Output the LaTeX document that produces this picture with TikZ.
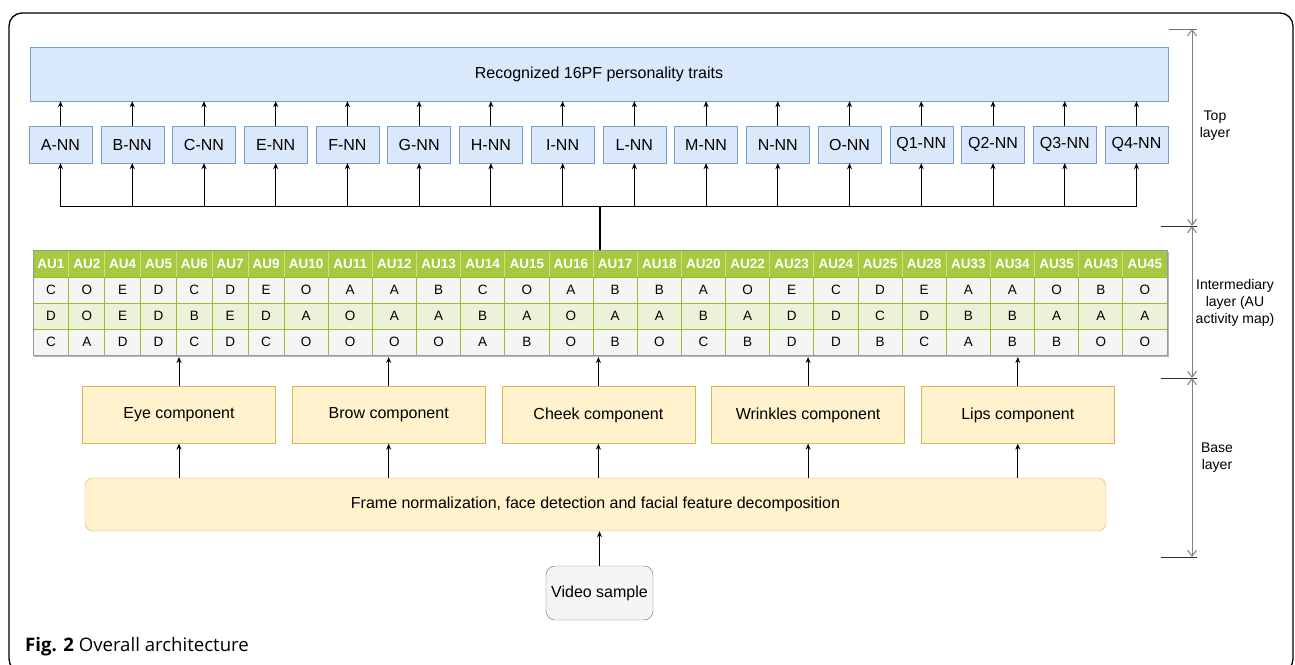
\documentclass[tikz,border=0pt]{standalone}
\usepackage{fontspec}
\setmainfont{Liberation Sans}
\newfontfamily\capfont{Open Sans}
\usepackage{tikz}
\usetikzlibrary{arrows.meta,positioning}

\definecolor{nnfill}{HTML}{DAE8FC}
\definecolor{nndraw}{HTML}{7C9CC8}
\definecolor{cpfill}{HTML}{FFF2CC}
\definecolor{cpdraw}{HTML}{D6B656}
\definecolor{aufill}{HTML}{A6C940}
\definecolor{augrid}{HTML}{94C02C}
\definecolor{rowgrey}{HTML}{F5F5F5}
\definecolor{rowgreen}{HTML}{EBF2D8}

% column width and centre of AU column #1
\newcommand{\aucol}[1]{%
  \pgfmathsetmacro{\colw}{#1<7 ? 35.86 : 44.15}%
  \pgfmathsetmacro{\colx}{(#1<7 ? 33+35.86*#1 : 284+44.15*(#1-7)) + \colw/2}}

\tikzset{
  nnbox/.style={draw=nndraw, fill=nnfill, minimum width=63pt, minimum height=37pt, inner sep=0pt},
  compbox/.style={draw=cpdraw, fill=cpfill, minimum width=193pt, minimum height=57pt, inner sep=0pt},
  arr/.style={-{Stealth[length=6pt,width=5pt]}, line width=0.9pt},
  aucell/.style={draw=augrid, line width=0.8pt, minimum height=26pt, inner sep=0pt, font=\fontsize{13.5}{15}\selectfont},
  auhead/.style={aucell, fill=aufill, draw=aufill!60!white, minimum height=27pt, text=white, font=\fontsize{13.5}{15}\selectfont\bfseries},
  dimline/.style={draw=black!50, line width=1pt, {Straight Barb[length=6pt,width=9pt]}-{Straight Barb[length=6pt,width=9pt]}},
  lbl/.style={align=center, inner sep=0pt, font=\fontsize{14}{17}\selectfont}
}

\begin{document}
\begin{tikzpicture}[x=1pt, y=-1pt, every node/.style={font=\fontsize{16}{19}\selectfont}]
\useasboundingbox (0,0) rectangle (1295,664);
\draw[line width=1.3pt, rounded corners=13pt] (9,13) rectangle (1293,672);

% top layer
\node[nnbox, minimum width=1138pt, minimum height=54pt] (traits) at (599,74) {Recognized 16PF personality traits};
\foreach \name [count=\i] in {A,B,C,E,F,G,H,I,L,M,N,O,Q1,Q2,Q3,Q4} {
    \pgfmathsetmacro{\x}{60.5 + 71.73*(\i - 1)}
    \node[nnbox] (N\i) at (\x, 144.5) {\name-NN};
}
\coordinate (bus) at (600,206);
\coordinate (mapTop) at (600,250);
\coordinate (mapBot) at (600,357);
\foreach \i in {1,...,16} {
    \draw[arr] (N\i.north) -- (N\i.north |- traits.south);
    \draw[arr] (bus) -| (N\i.south);
}
\draw[line width=1.3pt] (mapTop) -- (bus);

% AU activity map
\fill[black!28] (34,251.5) rectangle (1169,357);
\foreach \name [count=\i from 0] in {AU1,AU2,AU4,AU5,AU6,AU7,AU9,AU10,AU11,AU12,AU13,AU14,AU15,AU16,AU17,AU18,AU20,AU22,AU23,AU24,AU25,AU28,AU33,AU34,AU35,AU43,AU45} {
    \aucol{\i}
    \node[auhead, minimum width=\colw pt] (H\i) at (\colx,263.5) {\name};
}
\foreach \v [count=\i from 0] in {C,O,E,D,C,D,E,O,A,A,B,C,O,A,B,B,A,O,E,C,D,E,A,A,O,B,O} {
    \aucol{\i}
    \node[aucell, fill=rowgrey, minimum width=\colw pt] (Ra\i) at (\colx,290) {\v};
}
\foreach \v [count=\i from 0] in {D,O,E,D,B,E,D,A,O,A,A,B,A,O,A,A,B,A,D,D,C,D,B,B,A,A,A} {
    \aucol{\i}
    \node[aucell, fill=rowgreen, minimum width=\colw pt] (Rb\i) at (\colx,316) {\v};
}
\foreach \v [count=\i from 0] in {C,A,D,D,C,D,C,O,O,O,O,A,B,O,B,O,C,B,D,D,B,C,A,B,B,O,O} {
    \aucol{\i}
    \node[aucell, fill=rowgrey, minimum width=\colw pt] (Rc\i) at (\colx,342) {\v};
}
\draw[black!40, line width=0.8pt] (33,250) rectangle (1167,355);

% base layer
\foreach \name [count=\i] in {Eye,Brow,Cheek,Wrinkles,Lips} {
    \pgfmathsetmacro{\x}{179 + 209.7*(\i - 1)}
    \node[compbox] (C\i) at (\x, 415) {\name{} component};
}
\node[compbox, rounded corners=8pt, minimum width=1021pt, minimum height=53pt] (frame) at (595.5,504.5) {Frame normalization, face detection and facial feature decomposition};
\node[draw=black!60, fill=rowgrey, rounded corners=9pt, minimum width=107pt, minimum height=54pt] (video) at (599.5,593) {Video sample};

\draw[arr] (video.north) -- (video.north |- frame.south);
\foreach \i in {1,...,5} {
    \draw[arr] (C\i.south |- frame.north) -- (C\i.south);
    \draw[arr] (C\i.north) -- (C\i.north |- mapBot);
}

% layer dimensions
\coordinate (d0) at (1192,29);
\coordinate (d1) at (1192,226);
\coordinate (d2) at (1192,378);
\coordinate (d3) at (1192,557);
\draw[black!55, line width=1pt] (1169,29) -- (1197,29);
\draw[black!80, line width=1pt] (1161,226) -- (1197,226);
\draw[black!80, line width=1pt] (1161,378) -- (1197,378);
\draw[black!80, line width=1pt] (1161,557) -- (1197,557);
\draw[dimline] (d0) -- (d1);
\draw[dimline] (d1) -- (d2);
\draw[dimline] (d2) -- (d3);
\node[lbl] (topL) at (1215,126) {Top\\layer};
\node[lbl] (midL) at (1235,303) {Intermediary\\layer (AU\\activity map)};
\node[lbl] (baseL) at (1217,458) {Base\\layer};

% caption
\node[anchor=base west, inner sep=0pt, font=\capfont\fontsize{18.6}{22}\selectfont] (cap) at (25,651) {\textbf{Fig. 2} Overall architecture};
\end{tikzpicture}
\end{document}
